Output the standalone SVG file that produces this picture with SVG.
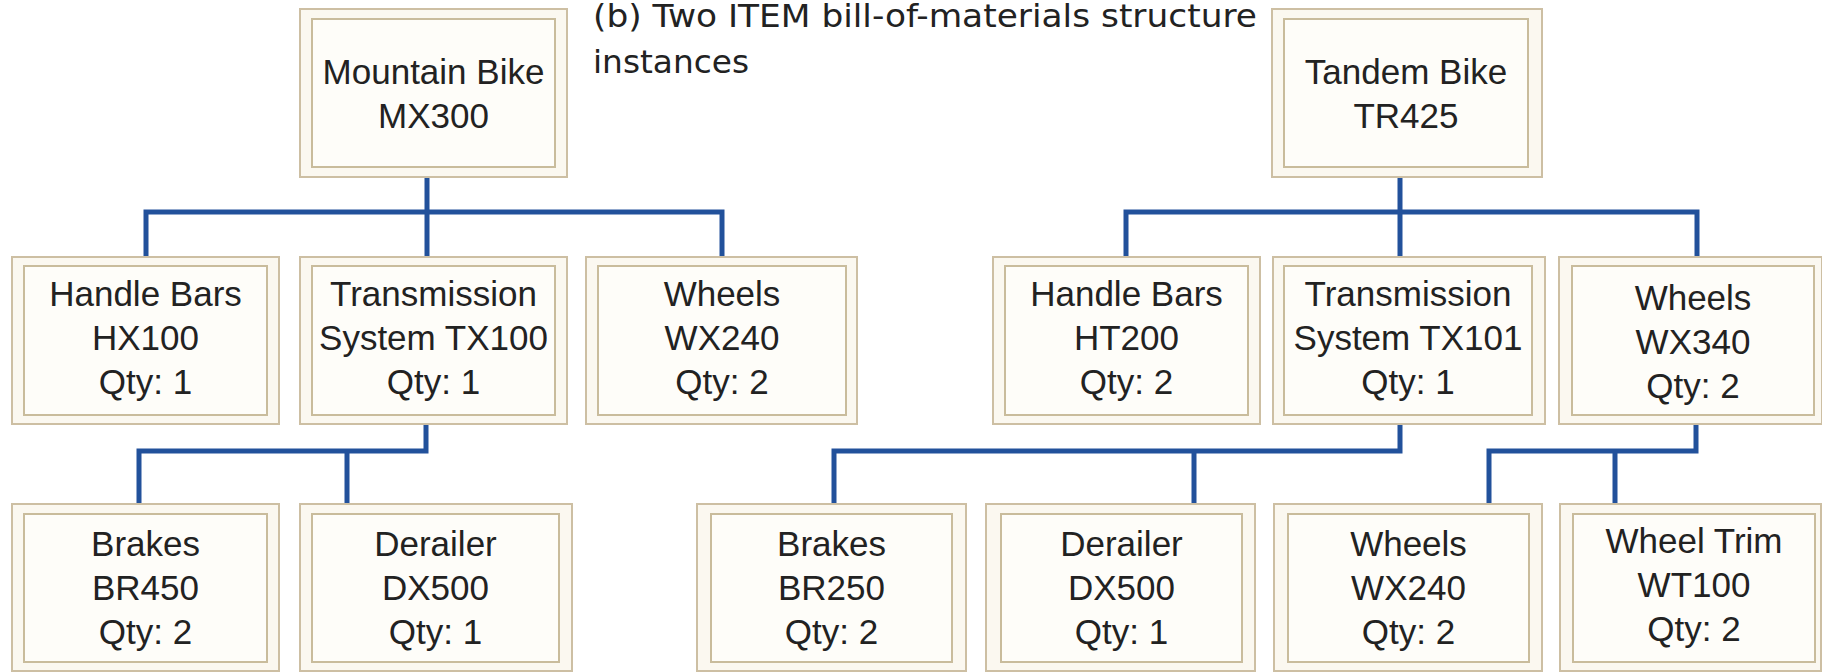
<svg xmlns="http://www.w3.org/2000/svg" width="1822" height="672" viewBox="0 0 1822 672">
<style>
.o{fill:#fbf8f0;stroke:#cdbfa3;stroke-width:2}
.i{fill:#fefdf9;stroke:#c9bc9c;stroke-width:2}
.t{font-family:"Liberation Sans",Arial,sans-serif;font-size:35px;fill:#222222;text-anchor:middle}
.ttl{font-family:"DejaVu Sans","Liberation Sans",sans-serif;font-size:32px;fill:#222}
.c{fill:none;stroke:#22519b;stroke-width:5;stroke-linejoin:miter;stroke-linecap:butt}
</style>
<rect width="1822" height="672" fill="#ffffff"/>
<text class="ttl" x="593" y="27" textLength="664" lengthAdjust="spacingAndGlyphs">(b) Two ITEM bill-of-materials structure</text>
<text class="ttl" x="593" y="73" textLength="156" lengthAdjust="spacingAndGlyphs">instances</text>
<g id="connectors">
<path class="c" d="M427 177V257M146 257V212H722V257M426 424V451H139V504M347 451V504"/>
<path class="c" d="M1400 177V257M1126 257V212H1697V257M1400 424V451H834V504M1194 451V504M1696 424V451H1489V504M1615 451V504"/>
</g>
<g id="mountain-bike"><rect class="o" x="300" y="9" width="267" height="168"/><rect class="i" x="312" y="19" width="243" height="148"/><text class="t" x="433.5" y="84">Mountain Bike</text><text class="t" x="433.5" y="128">MX300</text></g>
<g id="tandem-bike"><rect class="o" x="1272" y="9" width="270" height="168"/><rect class="i" x="1284" y="19" width="244" height="148"/><text class="t" x="1406" y="84">Tandem Bike</text><text class="t" x="1406" y="128">TR425</text></g>
<g id="hx100"><rect class="o" x="12" y="257" width="267" height="167"/><rect class="i" x="24" y="266" width="243" height="149"/><text class="t" x="145.5" y="306">Handle Bars</text><text class="t" x="145.5" y="350">HX100</text><text class="t" x="145.5" y="394">Qty: 1</text></g>
<g id="tx100"><rect class="o" x="300" y="257" width="267" height="167"/><rect class="i" x="312" y="266" width="243" height="149"/><text class="t" x="433.5" y="306">Transmission</text><text class="t" x="433.5" y="350">System TX100</text><text class="t" x="433.5" y="394">Qty: 1</text></g>
<g id="wx240-a"><rect class="o" x="586" y="257" width="271" height="167"/><rect class="i" x="598" y="266" width="248" height="149"/><text class="t" x="722" y="306">Wheels</text><text class="t" x="722" y="350">WX240</text><text class="t" x="722" y="394">Qty: 2</text></g>
<g id="ht200"><rect class="o" x="993" y="257" width="267" height="167"/><rect class="i" x="1005" y="266" width="243" height="149"/><text class="t" x="1126.5" y="306">Handle Bars</text><text class="t" x="1126.5" y="350">HT200</text><text class="t" x="1126.5" y="394">Qty: 2</text></g>
<g id="tx101"><rect class="o" x="1273" y="257" width="272" height="167"/><rect class="i" x="1284" y="266" width="248" height="149"/><text class="t" x="1408" y="306">Transmission</text><text class="t" x="1408" y="350">System TX101</text><text class="t" x="1408" y="394">Qty: 1</text></g>
<g id="wx340"><rect class="o" x="1559" y="257" width="263" height="167"/><rect class="i" x="1572" y="266" width="242" height="149"/><text class="t" x="1693" y="310">Wheels</text><text class="t" x="1693" y="354">WX340</text><text class="t" x="1693" y="398">Qty: 2</text></g>
<g id="br450"><rect class="o" x="12" y="504" width="267" height="167"/><rect class="i" x="24" y="514" width="243" height="148"/><text class="t" x="145.5" y="556">Brakes</text><text class="t" x="145.5" y="600">BR450</text><text class="t" x="145.5" y="644">Qty: 2</text></g>
<g id="dx500-a"><rect class="o" x="300" y="504" width="272" height="167"/><rect class="i" x="312" y="514" width="247" height="148"/><text class="t" x="435.5" y="556">Derailer</text><text class="t" x="435.5" y="600">DX500</text><text class="t" x="435.5" y="644">Qty: 1</text></g>
<g id="br250"><rect class="o" x="697" y="504" width="269" height="167"/><rect class="i" x="711" y="514" width="241" height="148"/><text class="t" x="831.5" y="556">Brakes</text><text class="t" x="831.5" y="600">BR250</text><text class="t" x="831.5" y="644">Qty: 2</text></g>
<g id="dx500-b"><rect class="o" x="986" y="504" width="269" height="167"/><rect class="i" x="1001" y="514" width="241" height="148"/><text class="t" x="1121.5" y="556">Derailer</text><text class="t" x="1121.5" y="600">DX500</text><text class="t" x="1121.5" y="644">Qty: 1</text></g>
<g id="wx240-b"><rect class="o" x="1274" y="504" width="268" height="167"/><rect class="i" x="1288" y="514" width="241" height="148"/><text class="t" x="1408.5" y="556">Wheels</text><text class="t" x="1408.5" y="600">WX240</text><text class="t" x="1408.5" y="644">Qty: 2</text></g>
<g id="wt100"><rect class="o" x="1560" y="504" width="261" height="167"/><rect class="i" x="1573" y="514" width="242" height="148"/><text class="t" x="1694" y="553">Wheel Trim</text><text class="t" x="1694" y="597">WT100</text><text class="t" x="1694" y="641">Qty: 2</text></g>
</svg>
